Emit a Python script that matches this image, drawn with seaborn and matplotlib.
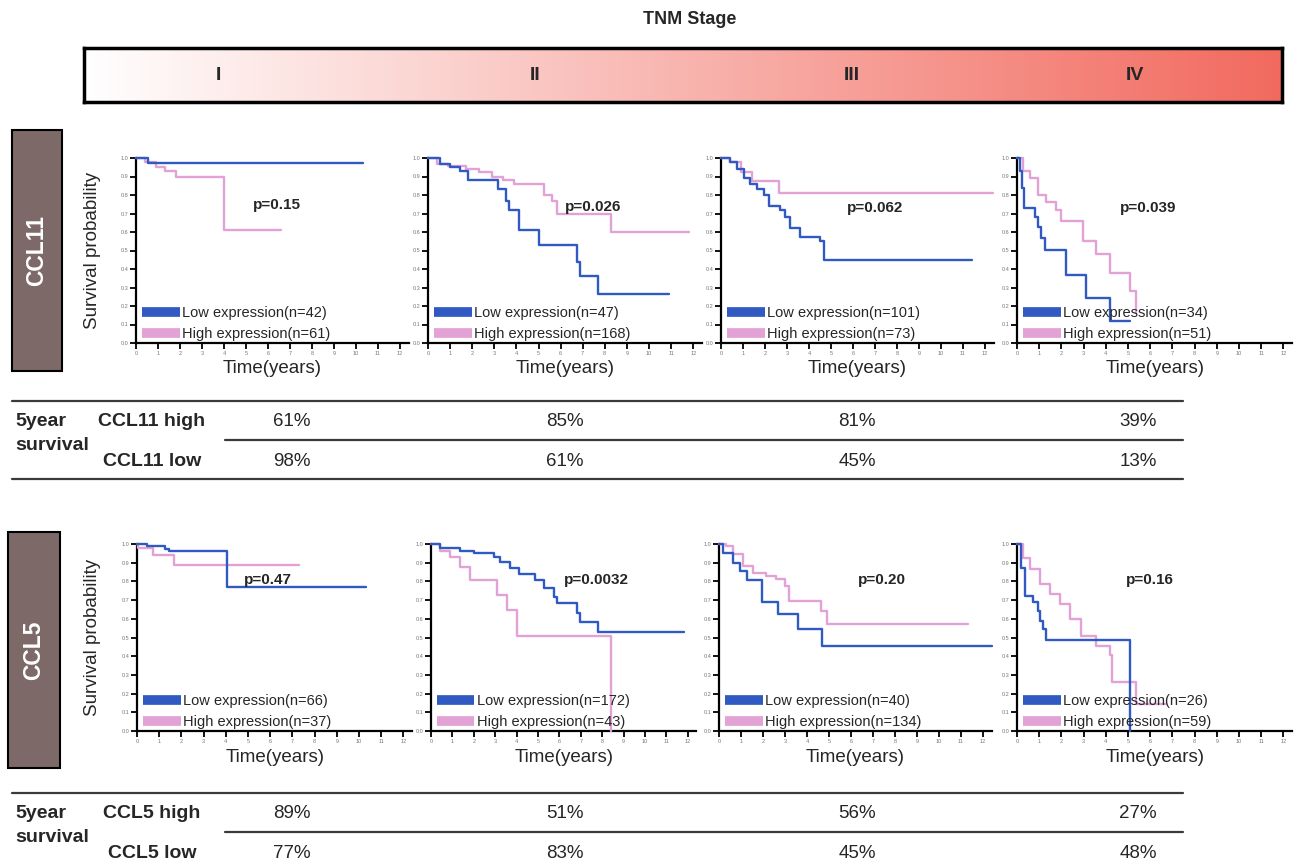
import numpy as np
import pandas as pd
import matplotlib
matplotlib.use("Agg")
import matplotlib.pyplot as plt
import seaborn as sns
from matplotlib.patches import Rectangle
from matplotlib.lines import Line2D
from matplotlib.colors import LinearSegmentedColormap

# ---------------- data ----------------
stages = ["I", "II", "III", "IV"]
years = list(range(13))
surv_ticks = [0.0, 0.1, 0.2, 0.3, 0.4, 0.5, 0.6, 0.7, 0.8, 0.9, 1.0]

# CCL11 Kaplan-Meier curves (time in years, survival probability)
ccl11_I_low_t = [0, 0.55, 10.3]
ccl11_I_low_s = [1.0, 0.975, 0.975]
ccl11_I_high_t = [0, 0.4, 0.9, 1.3, 1.8, 4.0, 6.6]
ccl11_I_high_s = [1.0, 0.98, 0.95, 0.93, 0.90, 0.61, 0.61]

ccl11_II_low_t = [0, 0.55, 1.0, 1.45, 1.82, 3.18, 3.55, 3.65, 4.1, 5.0, 6.72, 6.87, 7.7, 10.9]
ccl11_II_low_s = [1.0, 0.97, 0.95, 0.93, 0.88, 0.83, 0.77, 0.72, 0.61, 0.53, 0.44, 0.36, 0.265, 0.265]
ccl11_II_high_t = [0, 0.4, 0.9, 1.7, 2.3, 2.9, 3.4, 3.9, 5.25, 5.6, 5.85, 8.3, 11.8]
ccl11_II_high_s = [1.0, 0.97, 0.955, 0.94, 0.925, 0.90, 0.88, 0.86, 0.80, 0.77, 0.70, 0.60, 0.60]

ccl11_III_low_t = [0, 0.4, 0.72, 1.03, 1.33, 1.64, 1.94, 2.17, 2.7, 2.9, 3.15, 3.6, 4.5, 4.7, 11.4]
ccl11_III_low_s = [1.0, 0.98, 0.94, 0.89, 0.86, 0.835, 0.80, 0.74, 0.72, 0.68, 0.62, 0.575, 0.55, 0.45, 0.45]
ccl11_III_high_t = [0, 0.4, 0.9, 1.4, 2.65, 12.35]
ccl11_III_high_s = [1.0, 0.98, 0.925, 0.875, 0.81, 0.81]

ccl11_IV_low_t = [0, 0.12, 0.22, 0.33, 0.82, 0.96, 1.1, 1.25, 2.22, 3.1, 4.17, 5.07]
ccl11_IV_low_s = [1.0, 0.93, 0.84, 0.73, 0.68, 0.625, 0.57, 0.505, 0.37, 0.245, 0.12, 0.12]
ccl11_IV_high_t = [0, 0.29, 0.6, 0.95, 1.3, 1.75, 1.98, 2.96, 3.56, 4.2, 5.09, 5.38]
ccl11_IV_high_s = [1.0, 0.93, 0.89, 0.80, 0.76, 0.72, 0.66, 0.55, 0.48, 0.38, 0.28, 0.16]

# CCL5 Kaplan-Meier curves
ccl5_I_low_t = [0, 0.44, 1.27, 1.42, 4.04, 10.3]
ccl5_I_low_s = [1.0, 0.99, 0.975, 0.96, 0.77, 0.77]
ccl5_I_high_t = [0, 0.05, 0.74, 1.65, 7.3]
ccl5_I_high_s = [1.0, 0.98, 0.94, 0.89, 0.89]

ccl5_II_low_t = [0, 0.44, 1.37, 2.0, 2.93, 3.24, 3.7, 4.1, 4.87, 5.26, 5.73, 5.9, 6.8, 6.97, 7.8, 11.8]
ccl5_II_low_s = [1.0, 0.977, 0.962, 0.95, 0.932, 0.905, 0.87, 0.84, 0.807, 0.763, 0.718, 0.683, 0.63, 0.584, 0.53, 0.53]
ccl5_II_high_t = [0, 0.44, 0.9, 1.37, 1.84, 3.09, 3.56, 4.03, 8.4]
ccl5_II_high_s = [1.0, 0.96, 0.93, 0.878, 0.807, 0.727, 0.646, 0.51, 0.0]

ccl5_III_low_t = [0, 0.2, 0.65, 0.95, 1.26, 1.94, 2.7, 3.6, 4.7, 12.4]
ccl5_III_low_s = [1.0, 0.954, 0.90, 0.856, 0.807, 0.688, 0.626, 0.546, 0.457, 0.457]
ccl5_III_high_t = [0, 0.33, 0.65, 1.1, 1.55, 2.15, 2.6, 3.0, 3.2, 4.65, 4.9, 11.3]
ccl5_III_high_s = [1.0, 0.99, 0.945, 0.883, 0.847, 0.83, 0.812, 0.776, 0.697, 0.644, 0.57, 0.57]

ccl5_IV_low_t = [0, 0.18, 0.34, 0.72, 0.95, 1.03, 1.17, 1.32, 5.07]
ccl5_IV_low_s = [1.0, 0.874, 0.723, 0.688, 0.644, 0.59, 0.546, 0.484, 0.0]
ccl5_IV_high_t = [0, 0.27, 0.57, 1.02, 1.47, 1.92, 2.37, 2.9, 3.57, 4.17, 4.3, 5.37, 6.7]
ccl5_IV_high_s = [1.0, 0.927, 0.865, 0.785, 0.73, 0.678, 0.60, 0.51, 0.457, 0.404, 0.26, 0.147, 0.147]

ccl11_low_n = [42, 47, 101, 34]
ccl11_high_n = [61, 168, 73, 51]
ccl5_low_n = [66, 172, 40, 26]
ccl5_high_n = [37, 43, 134, 59]

ccl11_p = ["0.15", "0.026", "0.062", "0.039"]
ccl5_p = ["0.47", "0.0032", "0.20", "0.16"]

ccl11_high_5yr = ["61%", "85%", "81%", "39%"]
ccl11_low_5yr = ["98%", "61%", "45%", "13%"]
ccl5_high_5yr = ["89%", "51%", "56%", "27%"]
ccl5_low_5yr = ["77%", "83%", "45%", "48%"]

# ---------------- style ----------------
sns.set_style("ticks")
plt.rcParams["font.family"] = ["Liberation Sans", "DejaVu Sans"]
NARROW = ["Liberation Sans Narrow", "Liberation Sans", "DejaVu Sans"]
BLUE = "#3159c2"
PINK = "#e2a2d6"

W, H = 1296, 867
fig = plt.figure(figsize=(W / 100, H / 100), dpi=100)
fig.patch.set_facecolor("white")


def fx(x):
    return x / W


def fy(y):
    return 1 - y / H


def km_frame(t, s):
    return pd.DataFrame({"time": t, "surv": s})


def draw_panel(ax, low, high, n_low, n_high, pval, ppos, ylabel):
    sns.lineplot(data=km_frame(*high), x="time", y="surv", ax=ax, color=PINK, lw=1.7,
                 drawstyle="steps-post", estimator=None, sort=False, clip_on=False, zorder=3)
    sns.lineplot(data=km_frame(*low), x="time", y="surv", ax=ax, color=BLUE, lw=1.7,
                 drawstyle="steps-post", estimator=None, sort=False, clip_on=False, zorder=4)
    ax.set_xlim(0, 12.4)
    ax.set_ylim(0, 1.0)
    ax.set_xticks(years)
    ax.set_xticklabels([str(v) for v in years])
    ax.set_yticks(surv_ticks)
    ax.set_yticklabels(["%.1f" % v for v in surv_ticks])
    sns.despine(ax=ax)
    for sp in ("left", "bottom"):
        ax.spines[sp].set_linewidth(1.6)
        ax.spines[sp].set_color("black")
    ax.tick_params(axis="both", length=4, width=1.3, color="black", labelcolor="#777777",
                   labelsize=4, pad=1.5)
    ax.set_xlabel("Time(years)", fontsize=13.5)
    ax.xaxis.set_label_coords(0.5, -0.14)
    ax.xaxis.label.set_va("center")
    if ylabel:
        ax.set_ylabel("Survival probability", fontsize=13.5)
        ax.yaxis.set_label_coords(-0.16, 0.5)
        ax.yaxis.label.set_va("center")
    else:
        ax.set_ylabel("")
    handles = [Line2D([0], [0], color=BLUE, lw=7, solid_capstyle="butt"),
               Line2D([0], [0], color=PINK, lw=7, solid_capstyle="butt")]
    leg = ax.legend(handles, ["Low expression(n=%d)" % n_low, "High expression(n=%d)" % n_high],
                    loc="lower left", bbox_to_anchor=(0.01, -0.005), frameon=False, fontsize=10.5,
                    handlelength=2.6, handletextpad=0.15, labelspacing=0.45, borderpad=0.2,
                    borderaxespad=0)
    leg.set_zorder(5)
    ax.text(ppos[0], ppos[1], "p=" + pval, ha="center", va="center", fontsize=11,
            fontweight="bold", zorder=6)


# ---------------- TNM stage bar ----------------
fig.text(fx(690), fy(20), "TNM Stage", ha="center", va="center", fontsize=13,
         fontweight="bold", family=NARROW)
bar_ax = fig.add_axes([fx(84), fy(102), (1282 - 84) / W, (102 - 48) / H])
cmap = LinearSegmentedColormap.from_list("tnm", ["#ffffff", "#f26a5f"])
bar_ax.imshow(np.linspace(0, 1, 512).reshape(1, -1), aspect="auto", cmap=cmap,
              extent=[0, 1, 0, 1])
bar_ax.set_xticks([])
bar_ax.set_yticks([])
for sp in bar_ax.spines.values():
    sp.set_linewidth(2.5)
    sp.set_color("black")
for lab, x in zip(stages, [218, 535, 852, 1135]):
    fig.text(fx(x), fy(75), lab, ha="center", va="center", fontsize=14,
             fontweight="bold", family=NARROW)

# ---------------- side gene boxes ----------------
for name, (x0, y0, x1, y1) in zip(["CCL11", "CCL5"], [(12, 130, 62, 371), (8, 532, 60, 768)]):
    fig.add_artist(Rectangle((fx(x0), fy(y1)), (x1 - x0) / W, (y1 - y0) / H,
                             transform=fig.transFigure, facecolor="#7d6a68",
                             edgecolor="black", lw=1.5))
    fig.text(fx((x0 + x1) / 2), fy((y0 + y1) / 2), name, rotation=90, ha="center",
             va="center", color="white", fontsize=16.5, fontweight="bold")

# ---------------- KM panels ----------------
row1_left = [136, 428, 721, 1017]
row1_scale = [22.0, 22.1, 22.0, 22.2]
row2_left = [137, 431, 719, 1017]
row2_scale = [22.2, 21.4, 22.0, 22.2]

ccl11_curves = [
    ((ccl11_I_low_t, ccl11_I_low_s), (ccl11_I_high_t, ccl11_I_high_s)),
    ((ccl11_II_low_t, ccl11_II_low_s), (ccl11_II_high_t, ccl11_II_high_s)),
    ((ccl11_III_low_t, ccl11_III_low_s), (ccl11_III_high_t, ccl11_III_high_s)),
    ((ccl11_IV_low_t, ccl11_IV_low_s), (ccl11_IV_high_t, ccl11_IV_high_s)),
]
ccl5_curves = [
    ((ccl5_I_low_t, ccl5_I_low_s), (ccl5_I_high_t, ccl5_I_high_s)),
    ((ccl5_II_low_t, ccl5_II_low_s), (ccl5_II_high_t, ccl5_II_high_s)),
    ((ccl5_III_low_t, ccl5_III_low_s), (ccl5_III_high_t, ccl5_III_high_s)),
    ((ccl5_IV_low_t, ccl5_IV_low_s), (ccl5_IV_high_t, ccl5_IV_high_s)),
]
ccl11_ppos = [(6.4, 0.745), (7.45, 0.737), (7.0, 0.73), (5.9, 0.73)]
ccl5_ppos = [(5.9, 0.807), (7.75, 0.81), (7.4, 0.81), (6.0, 0.807)]

for i in range(4):
    ax = fig.add_axes([fx(row1_left[i]), fy(343), 12.4 * row1_scale[i] / W, 185 / H])
    draw_panel(ax, ccl11_curves[i][0], ccl11_curves[i][1], ccl11_low_n[i], ccl11_high_n[i],
               ccl11_p[i], ccl11_ppos[i], i == 0)
    ax = fig.add_axes([fx(row2_left[i]), fy(731), 12.4 * row2_scale[i] / W, 187 / H])
    draw_panel(ax, ccl5_curves[i][0], ccl5_curves[i][1], ccl5_low_n[i], ccl5_high_n[i],
               ccl5_p[i], ccl5_ppos[i], i == 0)

# ---------------- 5-year survival tables ----------------
def hline(x0, x1, y):
    fig.add_artist(Line2D([fx(x0), fx(x1)], [fy(y), fy(y)], transform=fig.transFigure,
                          color="#3a3a3a", lw=1.6))


val_x = [292, 565, 857, 1138]
tables = [
    ("CCL11", ccl11_high_5yr, ccl11_low_5yr, 401),
    ("CCL5", ccl5_high_5yr, ccl5_low_5yr, 793),
]
for gene, hi, lo, top in tables:
    hline(12, 1183, top)
    hline(225, 1183, top + 39)
    if gene == "CCL11":
        hline(12, 1183, top + 78)
    r1 = top + 20
    r2 = top + 60
    fig.text(fx(15), fy(r1), "5year", ha="left", va="center", fontsize=14,
             fontweight="bold", family=NARROW)
    fig.text(fx(15), fy(r1 + 24), "survival", ha="left", va="center", fontsize=14,
             fontweight="bold", family=NARROW)
    fig.text(fx(152), fy(r1), gene + " high", ha="center", va="center", fontsize=14,
             fontweight="bold", family=NARROW)
    fig.text(fx(152), fy(r2), gene + " low", ha="center", va="center", fontsize=14,
             fontweight="bold", family=NARROW)
    for x, a, b in zip(val_x, hi, lo):
        fig.text(fx(x), fy(r1), a, ha="center", va="center", fontsize=13.5, family=NARROW)
        fig.text(fx(x), fy(r2), b, ha="center", va="center", fontsize=13.5, family=NARROW)

fig.savefig("out.png", dpi=100, facecolor="white")
